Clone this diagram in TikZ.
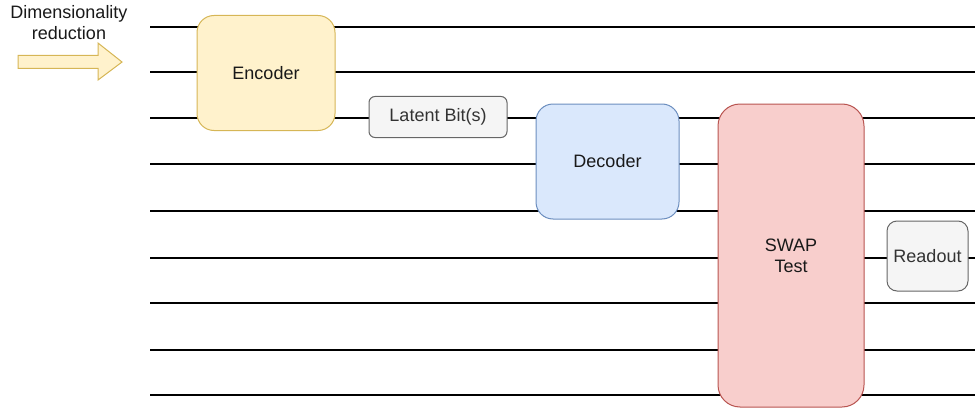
\documentclass[tikz,border=0pt]{standalone}
\usepackage{fontspec}
\setmainfont{Liberation Sans}
\definecolor{encfill}{HTML}{FFF2CC}\definecolor{encdraw}{HTML}{D6B656}
\definecolor{decfill}{HTML}{DAE8FC}\definecolor{decdraw}{HTML}{6C8EBF}
\definecolor{swfill}{HTML}{F8CECC}\definecolor{swdraw}{HTML}{B85450}
\definecolor{grfill}{HTML}{F5F5F5}\definecolor{grdraw}{HTML}{666666}
\definecolor{grtext}{HTML}{333333}
\begin{document}
\begin{tikzpicture}[x=1pt,y=-1pt,
  wire/.style={draw=black,line width=1.2pt},
  gate/.style={rectangle,line width=1pt,inner sep=0pt,align=center,font=\fontsize{18}{21}\selectfont,text=black!90},
  enc/.style={gate,fill=encfill,draw=encdraw,rounded corners=17pt},
  dec/.style={gate,fill=decfill,draw=decdraw,rounded corners=17pt},
  swp/.style={gate,fill=swfill,draw=swdraw,rounded corners=22pt},
  gry/.style={gate,fill=grfill,draw=grdraw,text=grtext}]
\useasboundingbox (0,0) rectangle (975,412);
% wires
\foreach \i/\y in {1/27,2/72,3/118,4/164,5/211,6/258,7/303,8/350,9/395}{
  \coordinate (w\i s) at (150,\y);
  \coordinate (w\i e) at (975,\y);
  \draw[wire] (w\i s) -- (w\i e);
}
% gates
\node[enc,minimum width=138pt,minimum height=115pt] (encoder) at (266,73) {Encoder};
\node[gry,rounded corners=6pt,minimum width=138pt,minimum height=41pt] (latent) at (438,117) {Latent Bit(s)};
\node[dec,minimum width=143pt,minimum height=115pt] (decoder) at (607.5,161.5) {Decoder};
\node[swp,minimum width=146pt,minimum height=303pt] (swap) at (791,255.5) {SWAP\\Test};
\node[gry,rounded corners=10pt,minimum width=81pt,minimum height=70pt] (readout) at (927.5,256) {Readout};
% label and arrow
\node[align=center,font=\fontsize{18}{21}\selectfont,text=black!90,inner sep=0pt] (dimlabel) at (69,22.5) {Dimensionality\\reduction};
\draw[fill=encfill,draw=encdraw,line width=1pt,line join=miter]
  (18,55.5) -- (98,55.5) -- (98,43) -- (122,62) -- (98,80) -- (98,68.5) -- (18,68.5) -- cycle;
\end{tikzpicture}
\end{document}
